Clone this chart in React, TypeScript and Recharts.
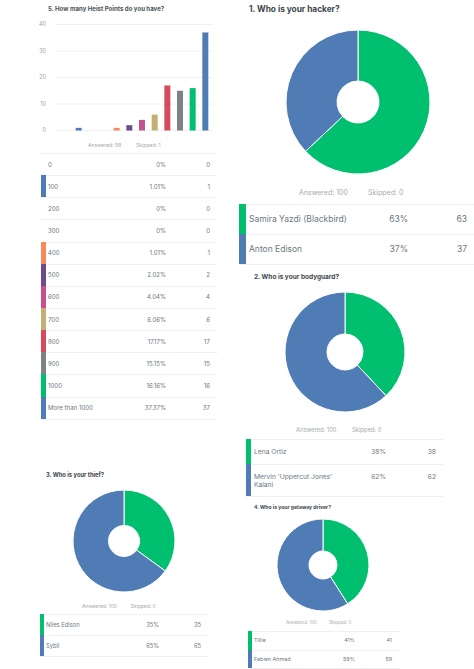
import { BarChart, Bar, Cell, XAxis, YAxis, CartesianGrid, PieChart, Pie } from 'recharts';

const GREEN = '#00bf6f';
const BLUE = '#507cb6';
const FONT = 'Inter, sans-serif';

const pointLabels = ['0', '100', '200', '300', '400', '500', '600', '700', '800', '900', '1000', 'More than 1000'];
const pointPercents = ['0%', '1.01%', '0%', '0%', '1.01%', '2.02%', '4.04%', '6.06%', '17.17%', '15.15%', '16.16%', '37.37%'];
const pointCounts = [0, 1, 0, 0, 1, 2, 4, 6, 17, 15, 16, 37];
const pointColors = ['#f7e9a0', BLUE, '#f4a3a3', '#9fd8d8', '#f78b57', '#6b4d8e', '#c8508f', '#c4b075', '#d64a5c', '#7d8287', GREEN, BLUE];
const pointTicks = [0, 10, 20, 30, 40];

const hackerNames = ['Samira Yazdi (Blackbird)', 'Anton Edison'];
const hackerCounts = [63, 37];
const bodyguardNames = ['Lena Ortiz', "Mervin 'Uppercut Jones' Kalani"];
const bodyguardCounts = [38, 62];
const thiefNames = ['Niles Edison', 'Sybil'];
const thiefCounts = [35, 65];
const driverNames = ['Tillie', 'Fabien Ahmad'];
const driverCounts = [41, 59];
const twoColors = [GREEN, BLUE];

const pointRows = pointLabels.map((name, i) => ({ name, count: pointCounts[i] }));

function Label({ x, y, size, color, bold, children }: any) {
  return (
    <div
      style={{
        position: 'absolute',
        left: x,
        top: y - size,
        height: size * 2,
        lineHeight: `${size * 2}px`,
        fontSize: size,
        fontWeight: bold ? 700 : 400,
        color,
        whiteSpace: 'nowrap',
      }}
    >
      {children}
    </div>
  );
}

function Stats({ y, size, answeredX, answered, skippedX, skipped }: any) {
  return (
    <>
      <Label x={answeredX} y={y} size={size} color="#a3abb0">Answered: {answered}</Label>
      <Label x={skippedX} y={y} size={size} color="#a3abb0">Skipped: {skipped}</Label>
    </>
  );
}

function Table({ left, top, width, rowHeights, stripe, size, textX, textWidth, pctRight, countRight, names, pcts, counts, colors }: any) {
  const lineHeight = size * 1.3;
  const pad = (rowHeights[0] - lineHeight) / 2 - 0.5;
  return (
    <div style={{ position: 'absolute', left, top, width, borderTop: '1px solid #eef0f1', color: '#6b787f', fontSize: size, lineHeight: `${lineHeight}px` }}>
      {names.map((name: string, i: number) => (
        <div key={name} style={{ position: 'relative', height: rowHeights[i] - 1, borderBottom: '1px solid #eef0f1' }}>
          {colors[i] && pcts[i] !== '0%' && (
            <div style={{ position: 'absolute', left: 0, top: -1, width: stripe, height: rowHeights[i], background: colors[i] }} />
          )}
          <div style={{ position: 'absolute', left: textX, top: pad, width: textWidth }}>{name}</div>
          <div style={{ position: 'absolute', right: width - pctRight, top: pad }}>{pcts[i]}</div>
          <div style={{ position: 'absolute', right: width - countRight, top: pad }}>{counts[i]}</div>
        </div>
      ))}
    </div>
  );
}

function Donut({ cx, cy, radius, inner, names, counts }: any) {
  const data = names.map((name: string, i: number) => ({ name, value: counts[i] }));
  const box = radius * 2 + 4;
  return (
    <div style={{ position: 'absolute', left: cx - box / 2, top: cy - box / 2 }}>
      <PieChart width={box} height={box} margin={{ top: 0, right: 0, bottom: 0, left: 0 }}>
        <Pie
          data={data}
          dataKey="value"
          cx="50%"
          cy="50%"
          outerRadius={radius}
          innerRadius={inner}
          startAngle={90}
          endAngle={-270}
          stroke="#fff"
          strokeWidth={1}
          isAnimationActive={false}
        >
          {data.map((d: any, i: number) => (
            <Cell key={d.name} fill={twoColors[i]} />
          ))}
        </Pie>
      </PieChart>
    </div>
  );
}

export default function App() {
  return (
    <div style={{ position: 'fixed', left: 0, top: 0, width: 474, height: 669, background: '#fff', overflow: 'hidden', fontFamily: FONT }}>
      <Label x={48} y={9.5} size={6.1} color="#4a5459" bold>5. How many Heist Points do you have?</Label>
      <div style={{ position: 'absolute', left: 0, top: 0 }}>
        <BarChart width={237} height={150} data={pointRows} margin={{ top: 24.5, right: 24, bottom: 19.5, left: 0 }} barSize={6}>
          <CartesianGrid vertical={false} stroke="#eef0f1" />
          <XAxis dataKey="name" hide padding={{ left: 4, right: 1 }} />
          <YAxis
            width={56}
            domain={[0, 40]}
            ticks={pointTicks}
            axisLine={false}
            tickLine={false}
            tickMargin={4}
            tick={{ fill: '#9aa3a8', fontSize: 5.5 }}
          />
          <Bar dataKey="count" isAnimationActive={false}>
            {pointRows.map((row, i) => (
              <Cell key={row.name} fill={pointColors[i]} />
            ))}
          </Bar>
        </BarChart>
      </div>
      <Stats y={145.5} size={5.1} answeredX={88} answered={99} skippedX={136} skipped={1} />
      <Table
        left={41}
        top={153}
        width={176}
        rowHeights={pointLabels.map(() => 22.15)}
        stripe={4.5}
        size={6.1}
        textX={7}
        textWidth={90}
        pctRight={125}
        countRight={169}
        names={pointLabels}
        pcts={pointPercents}
        counts={pointCounts}
        colors={pointColors}
      />

      <Label x={249} y={9} size={8.3} color="#3c464b" bold>1. Who is your hacker?</Label>
      <Donut cx={358} cy={102} radius={72} inner={21} names={hackerNames} counts={hackerCounts} />
      <Stats y={193} size={7} answeredX={299} answered={100} skippedX={368} skipped={0} />
      <Table
        left={239}
        top={204}
        width={235}
        rowHeights={[30, 29.5]}
        stripe={6.5}
        size={8.5}
        textX={10}
        textWidth={140}
        pctRight={169}
        countRight={228}
        names={hackerNames}
        pcts={hackerCounts.map((c) => `${c}%`)}
        counts={hackerCounts}
        colors={twoColors}
      />

      <Label x={254} y={277} size={6.5} color="#3c464b" bold>2. Who is your bodyguard?</Label>
      <Donut cx={345} cy={352} radius={60} inner={18} names={bodyguardNames} counts={bodyguardCounts} />
      <Stats y={430} size={5.8} answeredX={296} answered={100} skippedX={352} skipped={0} />
      <Table
        left={245.5}
        top={439}
        width={198.5}
        rowHeights={[25, 32]}
        stripe={5.5}
        size={6.7}
        textX={8.5}
        textWidth={92}
        pctRight={140.5}
        countRight={190.5}
        names={bodyguardNames}
        pcts={bodyguardCounts.map((c) => `${c}%`)}
        counts={bodyguardCounts}
        colors={twoColors}
      />

      <Label x={46} y={475} size={5.8} color="#3c464b" bold>3. Who is your thief?</Label>
      <Donut cx={124} cy={541} radius={51} inner={15.5} names={thiefNames} counts={thiefCounts} />
      <Stats y={605.5} size={5} answeredX={82} answered={100} skippedX={130.5} skipped={0} />
      <Table
        left={39.5}
        top={613.5}
        width={168.5}
        rowHeights={[21, 21.5]}
        stripe={4.5}
        size={5.8}
        textX={6.5}
        textWidth={80}
        pctRight={119.5}
        countRight={161.5}
        names={thiefNames}
        pcts={thiefCounts.map((c) => `${c}%`)}
        counts={thiefCounts}
        colors={twoColors}
      />

      <Label x={254} y={507} size={5.1} color="#3c464b" bold>4. Who is your getaway driver?</Label>
      <Donut cx={323} cy={565} radius={46} inner={14} names={driverNames} counts={driverCounts} />
      <Stats y={623.5} size={4.4} answeredX={286} answered={100} skippedX={329} skipped={0} />
      <Table
        left={247.5}
        top={630.5}
        width={152.5}
        rowHeights={[19, 18]}
        stripe={4}
        size={5.4}
        textX={6.5}
        textWidth={70}
        pctRight={107.5}
        countRight={144.5}
        names={driverNames}
        pcts={driverCounts.map((c) => `${c}%`)}
        counts={driverCounts}
        colors={twoColors}
      />
    </div>
  );
}
